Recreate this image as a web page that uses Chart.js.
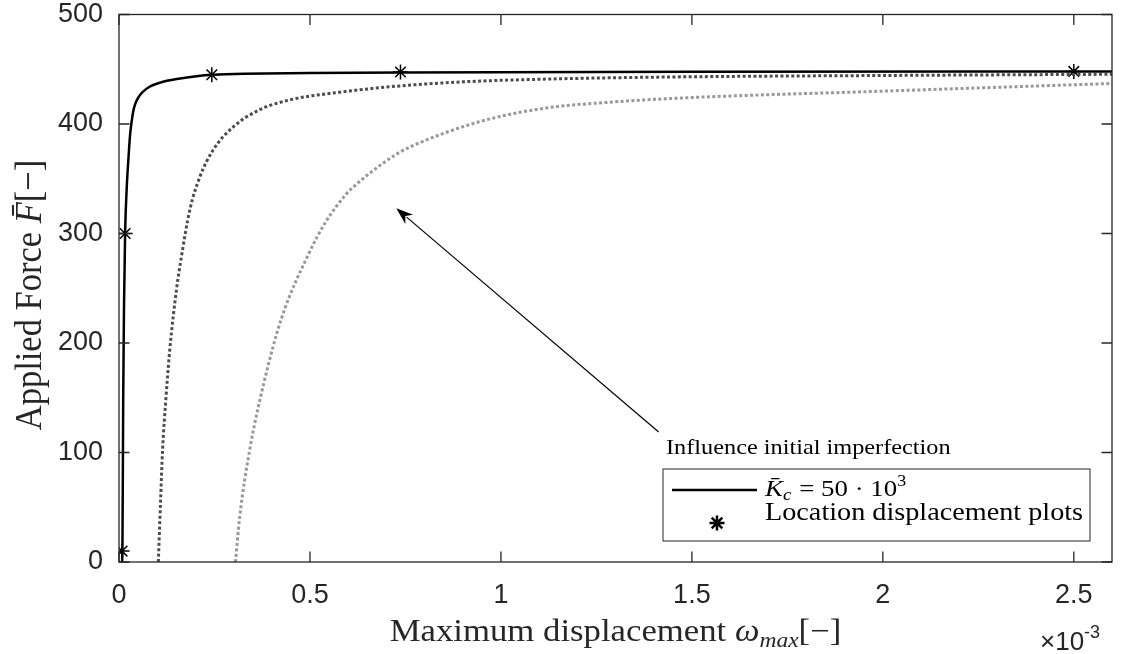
<!DOCTYPE html>
<html>
<head>
<meta charset="utf-8">
<script src="https://cdn.jsdelivr.net/npm/chart.js@4.4.1/dist/chart.umd.min.js"></script>
<style>
  html, body { margin: 0; padding: 0; background: #fff; }
  #wrap { width: 1121px; height: 654px; }
</style>
</head>
<body>
<div id="wrap"><canvas id="c" width="1121" height="654"></canvas></div>
<script>
// ---- data (x in units of 1e-3) ----
const solidX = [0.008, 0.009, 0.011, 0.013, 0.016, 0.020, 0.025, 0.029, 0.033, 0.037, 0.042, 0.052, 0.063, 0.08, 0.107, 0.151, 0.243, 0.5, 0.74, 1.5, 2.5, 2.6];
const solidF = [0, 10, 150, 230, 300, 340, 370, 390, 402, 411, 418, 425, 429.5, 434, 437.7, 441, 445, 446.5, 447, 447.7, 448, 448];

const darkX = [0.103, 0.109, 0.114, 0.123, 0.133, 0.151, 0.164, 0.185, 0.212, 0.246, 0.298, 0.368, 0.447, 0.577, 0.726, 0.9, 1.118, 1.41, 2.0, 2.6];
const darkF = [0, 57, 102, 150, 194, 250, 280, 321, 352, 376, 397, 413, 422, 429, 434.5, 438.5, 441, 442.8, 444.3, 445.4];

const lightX = [0.305, 0.316, 0.342, 0.379, 0.425, 0.496, 0.542, 0.595, 0.612, 0.66, 0.729, 0.768, 0.943, 1.118, 1.29, 1.457, 2.0, 2.6];
const lightF = [0, 41, 102, 163, 222, 281, 311, 336, 342, 356, 373, 380, 402, 414.6, 420, 423.5, 430, 437];

const markX = [0.008, 0.016, 0.243, 0.737, 2.5];
const markF = [10, 300, 445, 447.5, 448];

const xTicks = [0, 0.5, 1, 1.5, 2, 2.5];
const xTickLabels = ['0', '0.5', '1', '1.5', '2', '2.5'];
const yTicks = [0, 100, 200, 300, 400, 500];
const yTickLabels = ['0', '100', '200', '300', '400', '500'];

const arrowTail = [1.413, 118.7];
const arrowHead = [0.726, 323];

const pts = (xs, ys) => xs.map((v, i) => ({ x: v, y: ys[i] }));

const SERIF = '"Liberation Serif", "DejaVu Serif", serif';
const SANS = '"Liberation Sans", Arial, sans-serif';
const AXC = '#262626';
const SX = 1.12; // horizontal text stretch of the reference figure

function drawRuns(ctx, runs, x, y, align, sx) {
  sx = sx || 1;
  let total = 0;
  runs.forEach(r => { ctx.font = r.font; r.w = ctx.measureText(r.t).width; total += r.w + (r.gap || 0); });
  const start = align === 'center' ? x - total * sx / 2 : x;
  ctx.save();
  ctx.translate(start, y);
  ctx.scale(sx, 1);
  let cx = 0;
  runs.forEach(r => {
    ctx.font = r.font;
    ctx.fillText(r.t, cx, r.dy || 0);
    cx += r.w + (r.gap || 0);
  });
  ctx.restore();
  return total * sx;
}

const overlay = {
  id: 'overlay',
  afterDraw(chart) {
    const { ctx, chartArea: a, scales: { x, y } } = chart;
    ctx.save();
    // axes box
    ctx.strokeStyle = AXC;
    ctx.lineWidth = 1.3;
    ctx.strokeRect(a.left, a.top, a.right - a.left, a.bottom - a.top);
    // inward ticks on all four sides
    const tl = 10.5;
    ctx.beginPath();
    xTicks.forEach(v => {
      const px = x.getPixelForValue(v);
      ctx.moveTo(px, a.bottom); ctx.lineTo(px, a.bottom - tl);
      ctx.moveTo(px, a.top); ctx.lineTo(px, a.top + tl);
    });
    yTicks.forEach(v => {
      const py = y.getPixelForValue(v);
      ctx.moveTo(a.left, py); ctx.lineTo(a.left + tl, py);
      ctx.moveTo(a.right, py); ctx.lineTo(a.right - tl, py);
    });
    ctx.stroke();

    ctx.fillStyle = AXC;
    ctx.textBaseline = 'alphabetic';
    // x axis title
    drawRuns(ctx, [
      { t: 'Maximum displacement ', font: `31px ${SERIF}` },
      { t: 'ω', font: `italic 31px ${SERIF}` },
      { t: 'max', font: `italic 21px ${SERIF}`, dy: 6 },
      { t: '[−]', font: `31px ${SERIF}` }
    ], (a.left + a.right) / 2, 641, 'center', SX);

    // y axis title (rotated)
    ctx.save();
    ctx.translate(41, 295);
    ctx.rotate(-Math.PI / 2);
    ctx.scale(1, SX);
    drawRuns(ctx, [
      { t: 'Applied Force ', font: `34.5px ${SERIF}` },
      { t: 'F\u0304', font: `italic 34.5px ${SERIF}` },
      { t: '[−]', font: `34.5px ${SERIF}` }
    ], 0, 0, 'center', 1);
    ctx.restore();

    // exponent label
    ctx.fillStyle = AXC;
    drawRuns(ctx, [
      { t: '×10', font: `26px ${SANS}` },
      { t: '-3', font: `18px ${SANS}`, dy: -12 }
    ], 1040, 650, 'left', 1);

    // annotation arrow
    const tx = x.getPixelForValue(arrowTail[0]), ty = y.getPixelForValue(arrowTail[1]);
    const hx = x.getPixelForValue(arrowHead[0]), hy = y.getPixelForValue(arrowHead[1]);
    const ang = Math.atan2(hy - ty, hx - tx);
    const L = 17, W = 6;
    ctx.strokeStyle = '#000'; ctx.fillStyle = '#000'; ctx.lineWidth = 1.2;
    ctx.beginPath();
    ctx.moveTo(tx, ty);
    ctx.lineTo(hx - Math.cos(ang) * L * 0.8, hy - Math.sin(ang) * L * 0.8);
    ctx.stroke();
    ctx.beginPath();
    ctx.moveTo(hx, hy);
    ctx.lineTo(hx - Math.cos(ang) * L + Math.sin(ang) * W, hy - Math.sin(ang) * L - Math.cos(ang) * W);
    ctx.lineTo(hx - Math.cos(ang) * L * 0.7, hy - Math.sin(ang) * L * 0.7);
    ctx.lineTo(hx - Math.cos(ang) * L - Math.sin(ang) * W, hy - Math.sin(ang) * L + Math.cos(ang) * W);
    ctx.closePath();
    ctx.fill();

    // annotation text
    ctx.fillStyle = '#000';
    drawRuns(ctx, [{ t: 'Influence initial imperfection', font: `21.7px ${SERIF}` }], 666, 454, 'left', SX);

    // legend
    const lx = 663, ly = 469, lw = 427, lh = 72;
    ctx.fillStyle = '#fff';
    ctx.fillRect(lx, ly, lw, lh);
    ctx.strokeStyle = AXC; ctx.lineWidth = 1;
    ctx.strokeRect(lx, ly, lw, lh);
    ctx.strokeStyle = '#000'; ctx.lineWidth = 2.5;
    ctx.beginPath(); ctx.moveTo(672, 490); ctx.lineTo(757, 490); ctx.stroke();
    Chart.helpers.drawPoint(ctx, { pointStyle: 'star', radius: 7.5, borderWidth: 1.5 }, 717, 523);
    ctx.fillStyle = '#000';
    drawRuns(ctx, [
      { t: 'K\u0304', font: `italic 24px ${SERIF}` },
      { t: 'c', font: `italic 17px ${SERIF}`, dy: 4, gap: 7 },
      { t: '= 50 · 10', font: `24px ${SERIF}` },
      { t: '3', font: `16px ${SERIF}`, dy: -10 }
    ], 765, 496, 'left', SX);
    drawRuns(ctx, [{ t: 'Location displacement plots', font: `25.2px ${SERIF}` }], 765, 520, 'left', SX);
    ctx.restore();
  }
};

const dotted = (data, color) => ({
  data, borderColor: color, borderWidth: 3, borderDash: [3, 2.4], borderCapStyle: 'butt',
  pointRadius: 0, fill: false, cubicInterpolationMode: 'monotone', showLine: true
});

new Chart(document.getElementById('c'), {
  type: 'scatter',
  data: {
    datasets: [
      dotted(pts(lightX, lightF), '#999999'),
      dotted(pts(darkX, darkF), '#4d4d4d'),
      { data: pts(solidX, solidF), borderColor: '#000', borderWidth: 2.5, pointRadius: 0,
        showLine: true, fill: false, cubicInterpolationMode: 'monotone' },
      { data: pts(markX, markF), showLine: false, pointStyle: 'star', pointRadius: 7.5,
        borderColor: '#000', backgroundColor: '#000', pointBorderWidth: 1.5 }
    ]
  },
  options: {
    responsive: false,
    animation: false,
    events: [],
    layout: { padding: { top: 14.5, right: 7, left: 0, bottom: 0 } },
    plugins: { legend: { display: false }, tooltip: { enabled: false } },
    scales: {
      x: {
        type: 'linear', min: 0, max: 2.6,
        afterBuildTicks: s => { s.ticks = xTicks.map(v => ({ value: v })); },
        afterFit: s => { s.height = 92; s.paddingLeft = 0; s.paddingRight = 0; },
        grid: { display: false, drawTicks: false },
        border: { display: false },
        ticks: { includeBounds: false, padding: 17, color: AXC, maxRotation: 0,
          font: { family: SANS, size: 27 },
          callback: (v, i) => xTickLabels[i] }
      },
      y: {
        type: 'linear', min: 0, max: 500,
        afterBuildTicks: s => { s.ticks = yTicks.map(v => ({ value: v })); },
        afterFit: s => { s.width = 119; s.paddingTop = 0; s.paddingBottom = 0; },
        grid: { display: false, drawTicks: false },
        border: { display: false },
        ticks: { includeBounds: false, padding: 16, color: AXC,
          font: { family: SANS, size: 27, lineHeight: 1 },
          callback: (v, i) => yTickLabels[i] }
      }
    }
  },
  plugins: [overlay]
});
</script>
</body>
</html>
